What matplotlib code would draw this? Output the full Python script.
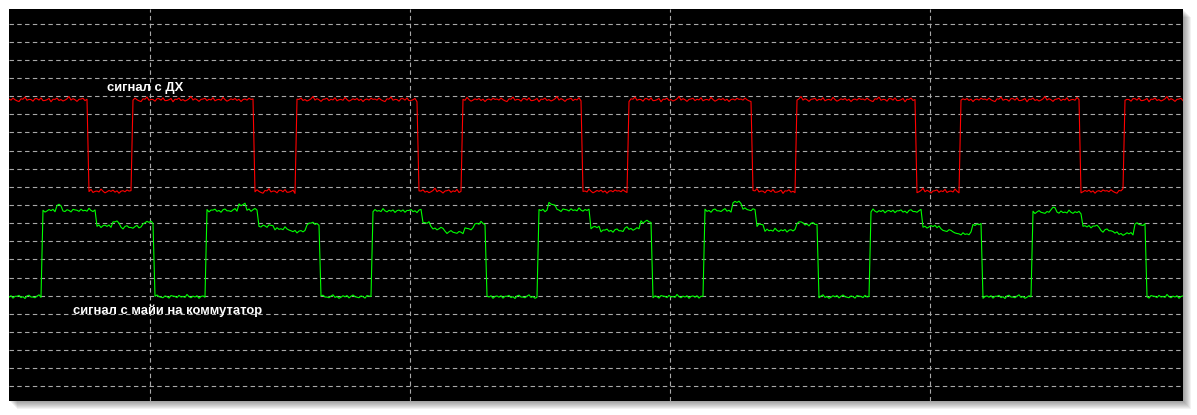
import numpy as np
import matplotlib
matplotlib.use('Agg')
import matplotlib.pyplot as plt
from matplotlib.patches import Rectangle
from matplotlib.ticker import MultipleLocator

# time in samples, 0 = first vertical grid line, one division = 260 samples
t_start, t_end = -141, 1033

# red trace (signal from the hall sensor): switch times and the level after each
red_edges = [-61, -18, 104, 147, 268, 313, 433, 479, 602, 647, 767, 811, 931, 974]
red_levels = [15.8, 10.75, 15.8, 10.75, 15.8, 10.75, 15.8, 10.75, 15.8,
              10.75, 15.8, 10.75, 15.8, 10.75, 15.8]

# green trace (signal to the switch)
green_edges = [-107, -93, -88, -54, -37, -30, -7, 5,
               57, 89, 96, 108, 125, 140, 156, 170,
               222, 273, 280, 295, 315, 325, 336,
               388, 398, 406, 440, 450, 475, 490, 502,
               554, 583, 592, 606, 615, 647, 653, 669,
               721, 773, 790, 805, 822, 833,
               883, 900, 907, 932, 950, 965, 985, 996]
green_levels = [4.95,
                9.7, 9.95, 9.7, 8.85, 9.05, 8.78, 9.05, 4.95,
                9.7, 10.05, 9.72, 8.85, 8.68, 8.55, 8.98, 4.95,
                9.68, 9.05, 8.72, 8.5, 8.68, 8.98, 4.95,
                9.7, 10.05, 9.72, 8.78, 8.6, 8.7, 9.07, 4.95,
                9.7, 10.15, 9.75, 8.9, 8.6, 9.05, 8.95, 4.95,
                9.66, 8.82, 8.6, 8.4, 8.93, 4.95,
                9.6, 9.82, 9.6, 8.82, 8.6, 8.42, 8.93, 4.95]

# small ripple
red_ripple = [0.04, -0.02, 0.09, 0.0, -0.06, -0.1, 0.05, 0.03, 0.15, -0.03, 0.02,
              0.01, -0.08, 0.06, 0.06, -0.02, 0.1, -0.05, -0.04, 0.0, 0.07, -0.11,
              0.03, 0.02, 0.09, -0.04, 0.01, -0.07, -0.02, 0.05, 0.18, -0.02, 0.06,
              0.0, -0.09, 0.02, 0.04, 0.08, -0.05, 0.03, -0.01, 0.11, -0.06, 0.0,
              0.02, -0.03, 0.13, 0.01, -0.08, -0.02, 0.05, 0.0, 0.07, -0.04, 0.03,
              -0.1, 0.01, 0.04, -0.02, 0.08, 0.02]
green_ripple = [-0.03, 0.05, -0.08, 0.02, 0.02, 0.07, -0.05, 0.0, -0.1, 0.04, 0.08,
                -0.02, -0.02, -0.06, 0.03, 0.1, -0.04, 0.01, -0.09, -0.03, 0.05,
                -0.01, 0.06, -0.07, 0.02, 0.09, 0.0, -0.03, -0.06, 0.04, 0.0, -0.08,
                0.06, 0.03, 0.01, -0.05, 0.07, -0.02, 0.01, -0.04, 0.12, 0.0, -0.06,
                0.03, -0.02, 0.05, -0.09, 0.01, 0.04]

label_red = "сигнал с ДХ"
label_green = "сигнал с майи на коммутатор"


def trace(edges, levels, ripple, t):
    idx = np.searchsorted(edges, t, side='right')
    base = np.asarray(levels)[idx]
    rip = np.resize(np.asarray(ripple), len(t))
    return base + rip


t = np.arange(t_start, t_end + 1, 2)
y_red = trace(red_edges, red_levels, red_ripple, t)
y_green = trace(green_edges, green_levels, green_ripple, t)

W, H = 1197, 415
fig = plt.figure(figsize=(W / 100, H / 100), dpi=100)
fig.patch.set_facecolor('white')

# soft drop shadow behind the screen
x0, y0, x1, y1 = 9, 9, 1183, 401
for i in range(1, 9):
    fig.patches.append(Rectangle(((x0 + i) / W, (H - y1 - i) / H),
                                 (x1 - x0) / W, (y1 - y0) / H,
                                 transform=fig.transFigure, facecolor='black',
                                 edgecolor='none', alpha=0.05, zorder=0))

ax = fig.add_axes([x0 / W, (H - y1) / H, (x1 - x0) / W, (y1 - y0) / H])
ax.set_facecolor('black')
ax.set_zorder(1)

ax.plot(t, y_red, color='#ff0000', lw=0.8)
ax.plot(t, y_green, color='#00ff00', lw=0.8)

ax.set_xlim(t_start, t_end)
ax.set_ylim(-0.8, 20.8)
ax.xaxis.set_major_locator(MultipleLocator(260))
ax.yaxis.set_major_locator(MultipleLocator(1))
ax.grid(True, color='#a8a8a8', linestyle=(0, (4, 3)), linewidth=0.8)
ax.set_axisbelow(True)
ax.tick_params(length=0, labelbottom=False, labelleft=False)
for s in ax.spines.values():
    s.set_visible(False)

ax.text(-43, 16.45, label_red, color='white', fontsize=9.4, fontweight='bold',
        family='Liberation Sans', va='center', ha='left')
ax.text(-77, 4.15, label_green, color='white', fontsize=9.4, fontweight='bold',
        family='Liberation Sans', va='center', ha='left')

fig.savefig('out.png', dpi=100, facecolor='white')
